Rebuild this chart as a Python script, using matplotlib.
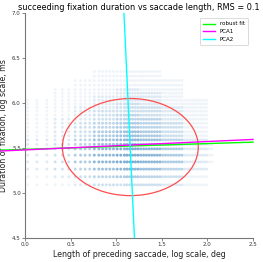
import numpy as np
import matplotlib
matplotlib.use("Agg")
import matplotlib.pyplot as plt
from matplotlib.patches import Ellipse

# Discrete log fixation-duration levels (rows of the scatter)
duration_levels = [6.35, 6.30, 6.25, 6.20, 6.15, 6.11, 6.07, 6.03, 5.99, 5.95,
                   5.91, 5.865, 5.82, 5.775, 5.73, 5.68, 5.635, 5.59, 5.54,
                   5.49, 5.42, 5.345, 5.265, 5.18, 5.09]
# Discrete log saccade-length levels (columns of the scatter)
saccade_levels = [0.03, 0.13, 0.24, 0.33, 0.41, 0.48, 0.55, 0.61, 0.66, 0.71,
                  0.76, 0.81, 0.85, 0.89, 0.93, 0.97, 1.01, 1.05, 1.09, 1.12,
                  1.15, 1.18, 1.21, 1.24, 1.27, 1.30, 1.33, 1.36, 1.39, 1.42,
                  1.45, 1.48, 1.51, 1.54, 1.57, 1.60, 1.63, 1.66, 1.69, 1.72,
                  1.75, 1.78, 1.81, 1.84, 1.87, 1.90, 1.93, 1.96, 1.99, 2.02,
                  2.05]
# x-bin edges for the density table
density_bins = [0.0, 0.25, 0.5, 0.75, 1.0, 1.25, 1.5, 1.75, 2.0, 2.25]
# point density (0-9) per duration level (rows) and x bin (columns)
density = [
    [0, 0, 0, 1, 1, 1, 0, 0, 0],
    [0, 0, 0, 1, 1, 1, 0, 0, 0],
    [0, 0, 1, 1, 1, 1, 1, 0, 0],
    [0, 0, 1, 1, 1, 1, 1, 0, 0],
    [0, 1, 1, 1, 2, 1, 1, 0, 0],
    [0, 1, 1, 1, 2, 2, 1, 0, 0],
    [0, 1, 1, 2, 2, 2, 1, 0, 0],
    [1, 1, 1, 2, 2, 2, 1, 1, 0],
    [1, 1, 1, 2, 3, 2, 1, 1, 0],
    [1, 1, 2, 2, 3, 3, 2, 1, 0],
    [1, 1, 2, 3, 3, 3, 2, 1, 0],
    [1, 1, 2, 3, 4, 3, 2, 1, 0],
    [1, 2, 2, 3, 4, 4, 2, 1, 0],
    [1, 2, 3, 4, 5, 4, 3, 1, 0],
    [1, 2, 3, 4, 5, 4, 3, 1, 0],
    [1, 2, 3, 5, 6, 5, 3, 1, 0],
    [1, 2, 3, 5, 6, 5, 3, 1, 0],
    [2, 2, 4, 6, 7, 6, 4, 2, 0],
    [2, 3, 4, 6, 7, 6, 4, 2, 1],
    [2, 3, 5, 7, 8, 7, 5, 2, 1],
    [2, 3, 5, 7, 8, 7, 5, 2, 1],
    [2, 3, 5, 7, 8, 7, 5, 2, 1],
    [2, 3, 4, 6, 7, 6, 4, 2, 0],
    [1, 2, 3, 4, 5, 4, 3, 1, 0],
    [1, 1, 2, 3, 3, 3, 2, 1, 0],
]

# fitted lines (x range, y at ends)
robust_x = [-0.27, 2.5]
robust_y = [5.476, 5.565]
pca1_x = [-0.27, 2.5]
pca1_y = [5.466, 5.595]
pca2_x = [1.085, 1.20]
pca2_y = [7.0, 4.5]
# covariance ellipse: center, width, height
ell_center = (1.155, 5.51)
ell_width = 1.49
ell_height = 1.08

fig = plt.figure(figsize=(2.63, 2.62), dpi=100)
ax = fig.add_axes([0.095, 0.092, 0.867, 0.858])

xs, ys, cs = [], [], []
bin_idx = np.digitize(saccade_levels, density_bins) - 1
for i, yv in enumerate(duration_levels):
    for j, xv in enumerate(saccade_levels):
        d = density[i][bin_idx[j]]
        if d > 0:
            xs.append(xv)
            ys.append(yv)
            cs.append((0.16, 0.47, 0.72, min(1.0, d * 0.075)))
ax.scatter(xs, ys, s=4.5, c=cs, marker='o', linewidths=0, zorder=1)

ax.add_patch(Ellipse(ell_center, ell_width, ell_height, fill=False,
                     edgecolor=(1.0, 0.3, 0.3), lw=0.9, zorder=2))
ax.plot(robust_x, robust_y, color='#00ff00', lw=1.0, label='robust fit',
        zorder=3, clip_on=False)
ax.plot(pca1_x, pca1_y, color='#ff00ff', lw=1.0, label='PCA1', zorder=4,
        clip_on=False)
ax.plot(pca2_x, pca2_y, color='#00ffff', lw=1.0, label='PCA2', zorder=4)

ax.set_xlim(0, 2.5)
ax.set_ylim(4.5, 7.0)
ax.set_xticks([0.0, 0.5, 1.0, 1.5, 2.0, 2.5])
ax.set_yticks([4.5, 5.0, 5.5, 6.0, 6.5, 7.0])
ax.tick_params(labelsize=4, length=2, width=0.5, colors='#555555', pad=1)
for lab in ax.get_xticklabels() + ax.get_yticklabels():
    lab.set_color('#333333')
for sp in ['top', 'right']:
    ax.spines[sp].set_visible(False)
for sp in ['left', 'bottom']:
    ax.spines[sp].set_color('#777777')
    ax.spines[sp].set_linewidth(0.8)

ax.set_xlabel('Length of preceding saccade, log scale, deg', fontsize=5.7,
              labelpad=2, color='#222222')
ax.set_ylabel('Duration of fixation, log scale, ms', fontsize=5.7, labelpad=3,
              color='#222222')
ax.set_title('succeeding fixation duration vs saccade length, RMS = 0.1',
             fontsize=5.9, pad=2)
leg = ax.legend(loc='upper right', fontsize=4, handlelength=2.2,
                borderpad=0.6, labelspacing=0.5, framealpha=1,
                bbox_to_anchor=(0.99, 0.99))
leg.get_frame().set_linewidth(0.5)

fig.savefig('out.png', dpi=100)
